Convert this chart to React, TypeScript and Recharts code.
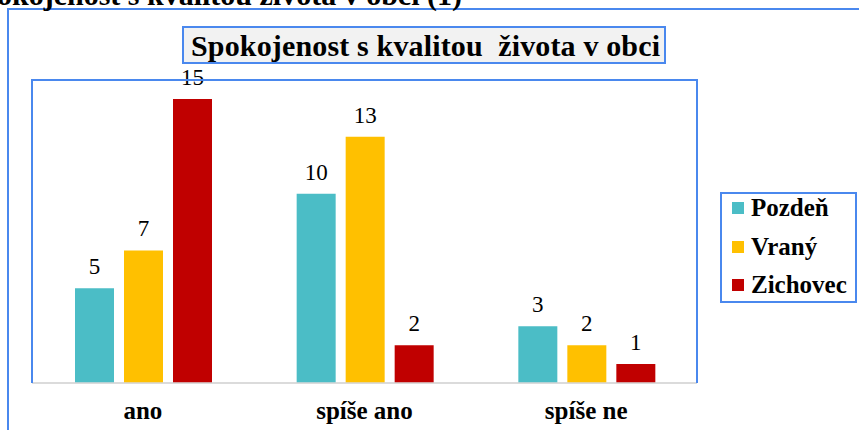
import { BarChart, Bar, XAxis, YAxis, CartesianGrid, LabelList, Legend } from "recharts";

// ---- data ----
const categories = ["ano", "spíše ano", "spíše ne"];
const pozden = [5, 10, 3];
const vrany = [7, 13, 2];
const zichovec = [15, 2, 1];
const yTicks = [0, 2, 4, 6, 8, 10, 12, 14, 16];

const series = [
  { key: "pozden", name: "Pozdeň", color: "#4bbdc6" },
  { key: "vrany", name: "Vraný", color: "#ffc000" },
  { key: "zichovec", name: "Zichovec", color: "#c00000" },
];

const data = categories.map((cat, i) => ({
  cat,
  pozden: pozden[i],
  vrany: vrany[i],
  zichovec: zichovec[i],
}));

const BLUE = "#4a88ee";
const GRID = "#d9d9d9";
const FONT = '"Liberation Serif", "Times New Roman", serif';

const renderLegend = () => (
  <div
    style={{
      position: "relative",
      width: 137,
      height: 111,
      boxSizing: "border-box",
      border: `2px solid ${BLUE}`,
      background: "#fff",
      fontFamily: FONT,
    }}
  >
    {series.map((s, i) => (
      <div
        key={s.key}
        style={{
          position: "absolute",
          left: 10,
          top: 14 + i * 38.5 - 15,
          height: 30,
          display: "flex",
          alignItems: "center",
          whiteSpace: "nowrap",
        }}
      >
        <span style={{ display: "inline-block", width: 12, height: 12, background: s.color, marginRight: 7 }} />
        <span style={{ fontSize: 25, fontWeight: 700, color: "#000" }}>{s.name}</span>
      </div>
    ))}
  </div>
);

export default function App() {
  return (
    <div
      style={{
        position: "absolute",
        left: 0,
        top: 0,
        width: 859,
        height: 430,
        overflow: "hidden",
        background: "#fff",
        fontFamily: FONT,
      }}
    >
      <BarChart
        width={859}
        height={430}
        data={data}
        margin={{ top: 80, right: 162, bottom: 7, left: 32 }}
        barCategoryGap={43}
        barGap={10}
      >
        <CartesianGrid vertical={false} stroke={GRID} strokeWidth={1.5} />
        <XAxis
          dataKey="cat"
          height={40}
          tickLine={false}
          tickSize={0}
          tickMargin={18}
          axisLine={{ stroke: GRID, strokeWidth: 1.5 }}
          tick={{ fill: "#000", fontSize: 25, fontWeight: 700, fontFamily: FONT }}
        />
        <YAxis
          width={0}
          domain={[0, 16]}
          ticks={yTicks}
          tick={false}
          axisLine={false}
          tickLine={false}
        />
        <Legend
          layout="horizontal"
          verticalAlign="middle"
          align="center"
          content={renderLegend}
          wrapperStyle={{ left: 720, top: 192, width: 137, height: 111 }}
        />
        {series.map((s) => (
          <Bar key={s.key} dataKey={s.key} name={s.name} fill={s.color} isAnimationActive={false}>
            <LabelList
              dataKey={s.key}
              position="top"
              offset={14}
              style={{ fill: "#000", fontSize: 23, fontFamily: FONT }}
            />
          </Bar>
        ))}
      </BarChart>

      {/* plot area frame (bottom edge is the grey axis line) */}
      <div
        style={{
          position: "absolute",
          left: 31,
          top: 79,
          width: 667,
          height: 304,
          boxSizing: "border-box",
          borderTop: `2px solid ${BLUE}`,
          borderLeft: `2px solid ${BLUE}`,
          borderRight: `2px solid ${BLUE}`,
        }}
      />
      {/* outer chart frame */}
      <div
        style={{
          position: "absolute",
          left: 7,
          top: 8,
          width: 900,
          height: 500,
          borderTop: `2px solid ${BLUE}`,
          borderLeft: `2px solid ${BLUE}`,
        }}
      />
      {/* title box */}
      <div
        style={{
          position: "absolute",
          left: 182,
          top: 26,
          width: 484,
          height: 38,
          boxSizing: "border-box",
          background: "#f2f2f2",
          border: `2px solid ${BLUE}`,
        }}
      />
      <svg width={859} height={430} style={{ position: "absolute", left: 0, top: 0, pointerEvents: "none" }}>
        <text x={462} y={5} textAnchor="end" fontSize={30} fontWeight={700} fontFamily={FONT} fill="#000">
          Spokojenost s kvalitou života v obci (1)
        </text>
        <text
          x={191}
          y={56}
          fontSize={30}
          fontWeight={700}
          fontFamily={FONT}
          fill="#000"
          textLength={469}
          lengthAdjust="spacing"
          style={{ whiteSpace: "pre" }}
        >
          Spokojenost s kvalitou  života v obci
        </text>
      </svg>
    </div>
  );
}
